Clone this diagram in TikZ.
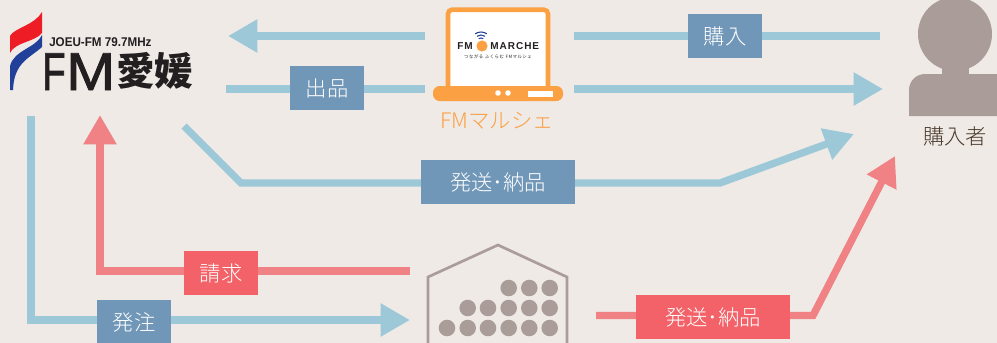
\documentclass[tikz,border=0pt]{standalone}
\usepackage{fontspec}
\setmainfont{Noto Sans CJK JP}
\setsansfont{Liberation Sans}
\newfontfamily\lightjp{Noto Sans CJK JP Light}
\usetikzlibrary{arrows.meta}
\definecolor{bgcol}{HTML}{EFEAE6}
\definecolor{linkblue}{HTML}{9CC8D8}
\definecolor{boxblue}{HTML}{7096B8}
\definecolor{linkred}{HTML}{F08285}
\definecolor{boxred}{HTML}{F26268}
\definecolor{laptoporange}{HTML}{FBA043}
\definecolor{stonegray}{HTML}{AA9C98}
\definecolor{buyertext}{HTML}{4A3A2C}
\definecolor{logoink}{HTML}{231F20}
\definecolor{flagred}{HTML}{EE1C25}
\definecolor{flagblue}{HTML}{21409A}
\tikzset{
  flow/.style={line width=5.5pt, draw=#1},
  flowtip/.style={line width=5.5pt, draw=#1, -{Triangle[length=22pt, width=23.5pt]}},
  tag/.style={fill=#1, text=white, minimum height=33pt, inner sep=0pt, font=\fontsize{16}{16}\lightjp},
}
\begin{document}
\begin{tikzpicture}[x=0.75pt, y=-0.75pt]
  \useasboundingbox (0,0) rectangle (997,343);
  \fill[bgcol] (0,0) rectangle (997,343);
  \clip (0,0) rectangle (997,343);

  % Logo
  \fill[flagred] (10,53) -- (10,36) .. controls (14,28) and (35,25) .. (42,12) -- (42,33) .. controls (35,42) and (15,42) .. (10,53) -- cycle;
  \fill[flagblue] (10,90) -- (10,66) .. controls (14,50) and (36,48) .. (42,35) -- (42,47) .. controls (30,58) and (14,62) .. (13,90) -- cycle;
  \node[font=\fontsize{9.5}{10}\bfseries\sffamily, text=logoink, inner sep=0pt, anchor=west] (freq) at (49,42) {\scalebox{.92}[1]{JOEU-FM 79.7MHz}};
  \node[font=\fontsize{40}{40}\sffamily, text=logoink, inner sep=0pt, anchor=base west] (logof) at (42,90) {\addfontfeature{FakeBold=1.5}\scalebox{.72}[1]{F}};
  \node[font=\fontsize{40}{40}\sffamily, text=logoink, inner sep=0pt, anchor=base west] (logom) at (66,90) {\addfontfeature{FakeBold=1.5}\scalebox{1.1}[1]{M}};
  \node[font=\fontsize{29}{30}\bfseries, text=logoink, inner sep=0pt, anchor=west] (logo) at (116,71) {愛媛};

  % PC
  \node[draw=laptoporange, line width=3.4pt, fill=white, rounded corners=3pt, outer sep=0pt, minimum width=75pt, minimum height=60.2pt, inner sep=0pt, anchor=south] (screen) at (498,90) {};
  \fill[laptoporange, rounded corners=5pt] (433,86) rectangle (563,101);
  \fill[white] (498,93) circle (2.1pt) (508,93) circle (2.1pt);
  \fill[white] (528,91) rectangle (553,97);
  \node[font=\fontsize{7.5}{8}\bfseries\sffamily, text=logoink, inner sep=0pt, anchor=west] (fmpart) at (457,46) {\addfontfeature{LetterSpace=10}FM};
  \node[font=\fontsize{7.5}{8}\bfseries\sffamily, text=logoink, inner sep=0pt, anchor=west] (marche) at (490,46) {\addfontfeature{LetterSpace=10}MARCHE};
  \fill[laptoporange] (482,46) circle (4.2pt);
  \foreach \r in {4,7,10} \draw[flagblue, line width=0.8pt] (481,42) ++(-125:\r) arc (-125:-55:\r);
  \node[font=\fontsize{3.3}{4}\selectfont, text=logoink, inner sep=0pt] (slogan) at (498,57) {\addfontfeature{LetterSpace=12}つながる ふくらむ FMマルシェ};
  \node[font=\fontsize{16}{16}\lightjp, text=laptoporange, inner sep=0pt] (fmlabel) at (497,121) {FMマルシェ};

  % Comprador
  \fill[stonegray] (955,34) circle (37);
  \fill[stonegray] (942,60) rectangle (969,80);
  \fill[stonegray] (909,116) [rounded corners=12pt] -- (909,74) -- (1020,74) [sharp corners] -- (1020,116) -- cycle;
  \node[font=\fontsize{16}{16}\lightjp, text=buyertext, inner sep=0pt] (buyer) at (955,136) {購入者};

  % Armazem
  \draw[stonegray, line width=2pt, fill=bgcol] (428,350) -- (428,277) -- (498,245) -- (567,277) -- (567,350);
  \foreach \x in {508.7,529.3,549.7} \fill[stonegray] (\x,288) circle (6.2pt);
  \foreach \x in {467.7,488,508.7,529.3,549.7} \fill[stonegray] (\x,308) circle (6.2pt);
  \foreach \x in {447,467.7,488,508.7,529.3,549.7} \fill[stonegray] (\x,328) circle (6.2pt);

  % Pontos das setas
  \coordinate (a1) at (425,36);   \coordinate (a2) at (228,36);
  \coordinate (b1) at (226,89);   \coordinate (b2) at (425,89);
  \coordinate (c1) at (574,36);   \coordinate (c2) at (880,36);
  \coordinate (d1) at (574,89);   \coordinate (d2) at (883,89);
  \coordinate (e1) at (184,126);  \coordinate (e2) at (241,183);
  \coordinate (e3) at (720,183);  \coordinate (e4) at (854,134);
  \coordinate (f1) at (31,116);   \coordinate (f2) at (31,320);
  \coordinate (f3) at (410,320);
  \coordinate (g1) at (410,271);  \coordinate (g2) at (100,271);
  \coordinate (g3) at (100,115);
  \coordinate (h1) at (596,315.5);  \coordinate (h2) at (813,315.5);
  \coordinate (h3) at (895,156);

  % Setas
  \draw[flowtip=linkblue] (a1) -- (a2);
  \draw[flow=linkblue] (b1) -- (b2);
  \draw[flow=linkblue] (c1) -- (c2);
  \draw[flowtip=linkblue] (d1) -- (d2);
  \draw[flowtip=linkblue] (e1) -- (e2) -- (e3) -- (e4);
  \draw[flowtip=linkblue] (f1) -- (f2) -- (f3);
  \draw[flowtip=linkred] (g1) -- (g2) -- (g3);
  \draw[flowtip=linkred] (h1) -- (h2) -- (h3);

  % Etiquetas
  \node[tag=boxblue, minimum width=55.5pt] (sell) at (327,88) {出品};
  \node[tag=boxblue, minimum width=55.5pt] (buy) at (725,36) {購入};
  \node[tag=boxblue, minimum width=115.5pt] (shipa) at (498,182) {発送･納品};
  \node[tag=boxred, minimum width=55.5pt] (bill) at (221,273) {請求};
  \node[tag=boxblue, minimum width=55.5pt] (order) at (134,322) {発注};
  \node[tag=boxred, minimum width=115.5pt] (shipb) at (713,317) {発送･納品};
\end{tikzpicture}
\end{document}
